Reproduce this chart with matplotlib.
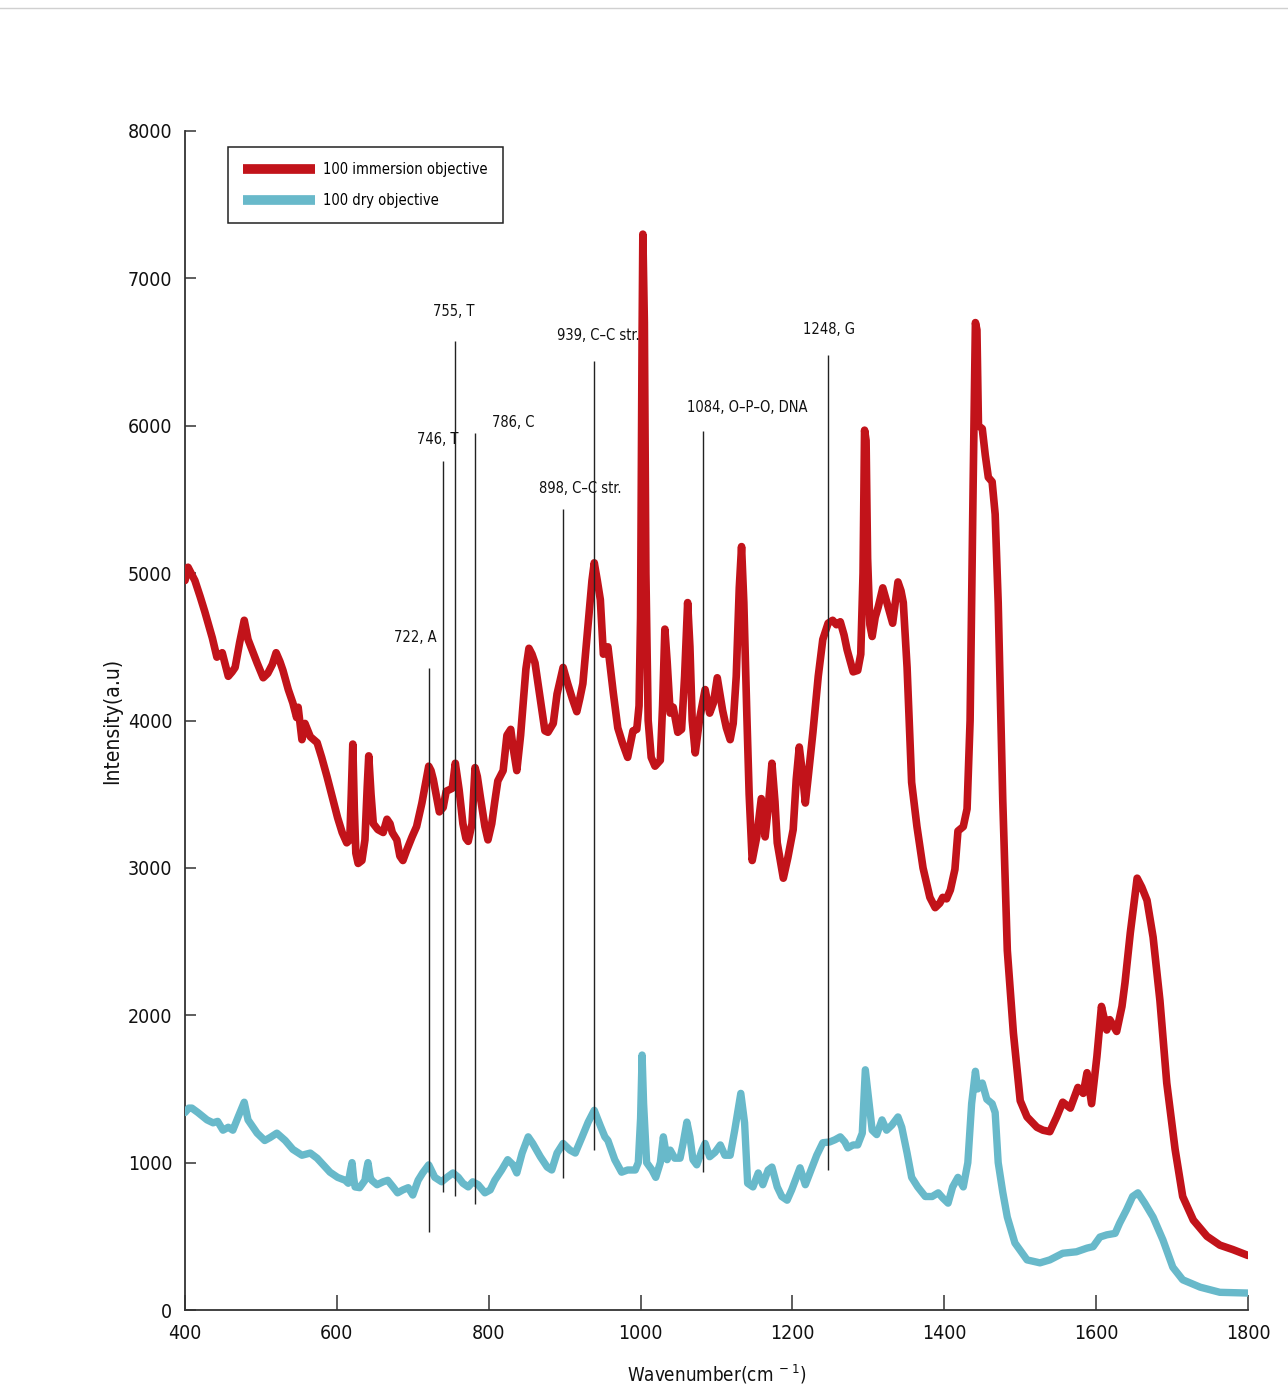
import matplotlib
matplotlib.use("Agg")
import matplotlib.pyplot as plt
from matplotlib.lines import Line2D

plt.rcParams['font.family'] = ['DejaVu Sans']
plt.rcParams['font.stretch'] = 'condensed'
plt.rcParams['mathtext.fontset'] = 'custom'
plt.rcParams['mathtext.rm'] = 'DejaVu Sans:stretch=condensed'

# ---------------- data ----------------
red_wn = [400, 404, 408, 413, 420, 426, 431, 436, 442, 449, 457, 462, 466, 472, 478, 483, 489, 495,
          503, 509, 515, 520, 525, 529, 536, 542, 547, 549, 554, 558, 565, 574, 580, 587, 595, 601,
          607, 613, 617, 619, 621, 623, 625, 628, 633, 637, 640, 642, 645, 648, 654, 661, 666, 670,
          673, 679, 683, 687, 692, 699, 705, 712, 717, 721, 724, 727, 732, 735, 740, 744, 748, 752,
          756, 761, 766, 770, 773, 778, 782, 785, 789, 795, 799, 804, 808, 812, 819, 824, 829, 832,
          837, 842, 845, 849, 853, 857, 861, 868, 874, 878, 885, 890, 898, 904, 910, 916, 920, 924,
          930, 936, 939, 943, 947, 951, 957, 964, 970, 976, 983, 990, 995, 998, 1000, 1002, 1003,
          1005, 1007, 1010, 1014, 1019, 1026, 1029, 1032, 1035, 1039, 1043, 1049, 1054, 1058, 1062,
          1065, 1068, 1072, 1078, 1085, 1091, 1096, 1101, 1108, 1113, 1118, 1122, 1126, 1130, 1133,
          1136, 1140, 1143, 1147, 1153, 1159, 1164, 1168, 1173, 1177, 1180, 1188, 1194, 1201, 1205,
          1209, 1213, 1217, 1220, 1227, 1234, 1240, 1247, 1253, 1258, 1263, 1268, 1272, 1280, 1286,
          1290, 1293, 1295, 1297, 1299, 1302, 1305, 1309, 1313, 1319, 1326, 1332, 1339, 1343, 1346,
          1351, 1357, 1364, 1372, 1381, 1388, 1394, 1398, 1403, 1408, 1414, 1418, 1425, 1430, 1434,
          1438, 1441, 1443, 1445, 1450, 1454, 1458, 1463, 1467, 1471, 1477, 1483, 1491, 1500, 1509,
          1522, 1530, 1539, 1548, 1556, 1566, 1576, 1583, 1588, 1594, 1601, 1607, 1614, 1618, 1627,
          1634, 1638, 1645, 1654, 1660, 1667, 1675, 1684, 1693, 1704, 1714, 1728, 1746, 1763, 1780,
          1800]
red_int = [4950, 5040, 5000, 4950, 4840, 4740, 4650, 4560, 4430, 4460, 4300, 4330, 4360, 4530, 4680,
           4550, 4470, 4390, 4290, 4320, 4380, 4460, 4400, 4340, 4210, 4120, 4020, 4090, 3870, 3980,
           3890, 3850, 3750, 3620, 3460, 3340, 3240, 3170, 3190, 3500, 3840, 3400, 3100, 3030, 3050,
           3190, 3550, 3760, 3500, 3300, 3260, 3240, 3330, 3300, 3240, 3190, 3080, 3050, 3120, 3210,
           3280, 3440, 3580, 3690, 3660, 3600, 3460, 3380, 3410, 3520, 3530, 3540, 3710, 3530, 3300,
           3200, 3180, 3300, 3680, 3620, 3480, 3280, 3190, 3300, 3450, 3590, 3660, 3900, 3940, 3820,
           3660, 3900, 4090, 4350, 4490, 4450, 4390, 4140, 3930, 3920, 3980, 4180, 4360, 4250, 4150,
           4060, 4150, 4250, 4600, 4950, 5070, 4950, 4820, 4450, 4500, 4190, 3950, 3850, 3750, 3930,
           3940, 4100, 4700, 6600, 7300, 6700, 5000, 4000, 3750, 3690, 3730, 4100, 4620, 4400, 4050,
           4090, 3920, 3940, 4300, 4800, 4500, 4000, 3780, 4020, 4210, 4050, 4120, 4290, 4070, 3950,
           3870, 3980, 4300, 4900, 5180, 4800, 4030, 3500, 3050, 3210, 3470, 3210, 3400, 3710, 3450,
           3170, 2930, 3070, 3260, 3600, 3820, 3650, 3440, 3580, 3920, 4300, 4550, 4660, 4680, 4650,
           4670, 4580, 4480, 4330, 4340, 4450, 5000, 5970, 5900, 5100, 4650, 4570, 4700, 4770, 4900,
           4770, 4660, 4940, 4880, 4800, 4360, 3580, 3280, 3000, 2800, 2730, 2760, 2800, 2790, 2850,
           2990, 3250, 3280, 3400, 4000, 5600, 6700, 6650, 6000, 5980, 5800, 5650, 5620, 5400, 4800,
           3460, 2440, 1880, 1420, 1310, 1240, 1220, 1210, 1310, 1410, 1370, 1510, 1470, 1610, 1400,
           1720, 2060, 1900, 1970, 1890, 2060, 2220, 2560, 2930, 2870, 2780, 2530, 2100, 1540, 1090,
           770, 610, 500, 440, 410, 370]

blue_wn = [400, 405, 409, 417, 429, 437, 443, 450, 457, 463, 470, 478, 483, 495, 505, 512, 521, 532,
           542, 554, 565, 574, 582, 591, 601, 611, 615, 618, 620, 622, 624, 630, 637, 639, 641, 644,
           646, 653, 661, 667, 674, 680, 687, 694, 700, 707, 713, 721, 729, 738, 745, 753, 760, 766,
           773, 779, 786, 795, 802, 808, 817, 825, 832, 837, 844, 852, 858, 868, 877, 883, 890, 898,
           907, 914, 923, 931, 939, 947, 953, 957, 966, 975, 983, 993, 997, 1000, 1002, 1004, 1008,
           1015, 1020, 1026, 1030, 1035, 1039, 1045, 1052, 1056, 1061, 1065, 1069, 1074, 1081, 1085,
           1091, 1098, 1105, 1111, 1118, 1124, 1132, 1137, 1141, 1148, 1155, 1161, 1168, 1173, 1180,
           1186, 1193, 1199, 1210, 1217, 1223, 1232, 1240, 1249, 1256, 1263, 1269, 1273, 1280, 1286,
           1292, 1296, 1300, 1305, 1311, 1318, 1324, 1331, 1339, 1344, 1351, 1357, 1365, 1375, 1384,
           1392, 1398, 1405, 1411, 1418, 1425, 1431, 1436, 1441, 1444, 1450, 1456, 1463, 1467, 1471,
           1477, 1483, 1493, 1509, 1526, 1539, 1556, 1574, 1588, 1596, 1605, 1614, 1625, 1631, 1640,
           1648, 1655, 1664, 1675, 1688, 1701, 1714, 1737, 1763, 1800]
blue_int = [1340, 1370, 1370, 1340, 1290, 1270, 1280, 1220, 1240, 1220, 1310, 1410, 1290, 1200, 1150,
            1170, 1200, 1150, 1090, 1050, 1065, 1030, 985, 935, 900, 880, 860, 950, 1000, 900, 835,
            830, 880, 950, 1000, 900, 880, 850, 870, 880, 835, 795, 815, 830, 780, 880, 930, 985, 900,
            870, 900, 930, 900, 860, 835, 870, 850, 795, 815, 880, 950, 1020, 985, 930, 1065, 1175,
            1130, 1040, 970, 950, 1065, 1130, 1085, 1065, 1175, 1275, 1355, 1250, 1175, 1150, 1020,
            935, 950, 950, 1000, 1300, 1730, 1400, 1000, 950, 900, 1000, 1175, 1020, 1085, 1030, 1030,
            1130, 1275, 1175, 1020, 985, 1085, 1130, 1040, 1070, 1120, 1050, 1050, 1220, 1470, 1270,
            860, 835, 930, 850, 950, 970, 835, 770, 745, 815, 965, 850, 930, 1050, 1135, 1140, 1155,
            1175, 1140, 1100, 1120, 1120, 1200, 1630, 1445, 1220, 1190, 1290, 1220, 1255, 1310, 1240,
            1065, 900, 835, 770, 770, 795, 760, 725, 835, 900, 835, 1000, 1400, 1620, 1500, 1540, 1430,
            1400, 1340, 1000, 800, 630, 455, 340, 320, 340, 385, 395, 420, 430, 495, 510, 520, 590,
            680, 770, 795, 725, 630, 475, 290, 205, 155, 120, 115]

series_labels = ['100 immersion objective', '100 dry objective']

ann_pos = [722, 740, 755, 782, 898, 939, 1082, 1247]
ann_low = [530, 800, 775, 720, 895, 1085, 935, 950]
ann_high = [4355, 5760, 6575, 5950, 5435, 6440, 5965, 6480]
ann_text = ['722, A', '746, T', '755, T', '786, C', '898, C\u2013C str.', '939, C\u2013C str.',
            '1084, O\u2013P\u2013O, DNA', '1248, G']
ann_tx = [703, 733, 754, 832, 920, 945, 1141, 1248]
ann_ty = [4566, 5910, 6778, 6025, 5577, 6609, 6127, 6656]

x_ticks = [400, 600, 800, 1000, 1200, 1400, 1600, 1800]
y_ticks = [0, 1000, 2000, 3000, 4000, 5000, 6000, 7000, 8000]

RED = '#c2131a'
BLUE = '#68b9ca'

# ---------------- figure ----------------
fig = plt.figure(figsize=(12.88, 13.97), dpi=100)
ax = fig.add_axes([185 / 1288, 1 - 1310 / 1397, 1063 / 1288, 1179 / 1397])

ax.plot(red_wn, red_int, color=RED, lw=5.5, solid_joinstyle='round', solid_capstyle='round',
        label=series_labels[0], zorder=3)
ax.plot(blue_wn, blue_int, color=BLUE, lw=5.3, solid_joinstyle='round', solid_capstyle='round',
        label=series_labels[1], zorder=3)

for x, lo, hi, t, tx, ty in zip(ann_pos, ann_low, ann_high, ann_text, ann_tx, ann_ty):
    ax.vlines(x, lo, hi, color='#222222', lw=1.0, zorder=4)
    ax.text(tx, ty, t, ha='center', va='center', fontsize=10.5, color='#111111', zorder=5)

ax.set_xlim(400, 1800)
ax.set_ylim(0, 8000)
ax.set_xticks(x_ticks)
ax.set_yticks(y_ticks)
ax.set_xticklabels([str(v) for v in x_ticks])
ax.set_yticklabels([str(v) for v in y_ticks])

for s in ['top', 'right']:
    ax.spines[s].set_visible(False)
for s in ['left', 'bottom']:
    ax.spines[s].set_color('#333333')
    ax.spines[s].set_linewidth(1.3)

ax.tick_params(axis='x', direction='in', length=10.5, width=1.1, color='#333333',
               labelsize=14, pad=10, labelcolor='#111111')
ax.tick_params(axis='y', direction='in', length=8, width=1.1, color='#333333',
               labelsize=14, pad=9, labelcolor='#111111')

ax.set_xlabel(r'Wavenumber(cm$^{\ -1}$)', fontsize=13.5, labelpad=14, color='#111111')
ax.set_ylabel('Intensity(a.u)', fontsize=15, labelpad=4, color='#111111')

leg = ax.legend(loc='upper left', bbox_to_anchor=((228 - 185) / 1063, (1310 - 147) / 1179),
                borderaxespad=0, frameon=True, fancybox=False, framealpha=1,
                edgecolor='#222222', fontsize=10.5, handlelength=4.9, handletextpad=0.55,
                borderpad=1.05, labelspacing=1.05)
leg.get_frame().set_linewidth(1.1)
for h in leg.get_lines():
    h.set_linewidth(7)
    h.set_solid_capstyle('butt')

fig.add_artist(Line2D([0, 1], [1 - 8 / 1397, 1 - 8 / 1397], transform=fig.transFigure,
                      color='#d0d0d0', lw=1.0))

fig.savefig('out.png', dpi=100, facecolor='white')
